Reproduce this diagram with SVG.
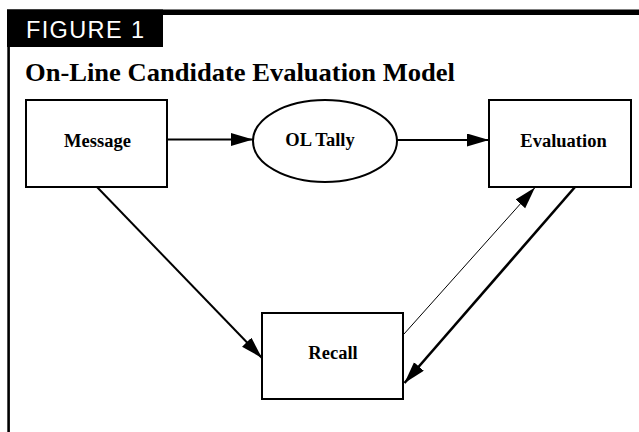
<svg xmlns="http://www.w3.org/2000/svg" width="639" height="432" viewBox="0 0 639 432">
<defs>
<style>
.box{fill:#fff;stroke:#000;stroke-width:2}
.lbl{font-family:"Liberation Serif","Times New Roman",serif;font-weight:bold;font-size:18.5px;fill:#000;text-anchor:middle}
.conn{stroke:#000;fill:none}
</style>
<marker id="ah" markerUnits="userSpaceOnUse" markerWidth="23" markerHeight="14" refX="22" refY="6.5" orient="auto">
<path d="M0,0 L22,6.5 L0,13 z" fill="#000"/>
</marker>
</defs>
<rect width="639" height="432" fill="#fff"/>
<g id="frame">
<rect x="7" y="9.5" width="632" height="5.5" fill="#000"/>
<rect x="7" y="9.5" width="156" height="37.5" fill="#000"/>
<line x1="8.6" y1="46" x2="8.6" y2="432" stroke="#000" stroke-width="2.6"/>
<text x="26" y="37.5" fill="#fff" font-family="'Liberation Sans',Arial,sans-serif" font-size="23.5" textLength="118" lengthAdjust="spacing">FIGURE 1</text>
<text x="25" y="81" fill="#000" font-family="'Liberation Serif','Times New Roman',serif" font-weight="bold" font-size="24.5" textLength="430" lengthAdjust="spacingAndGlyphs">On-Line Candidate Evaluation Model</text>
</g>
<g id="connectors">
<line class="conn" x1="167" y1="139.5" x2="253" y2="139.5" stroke-width="2" marker-end="url(#ah)"/>
<line class="conn" x1="397" y1="140" x2="489" y2="140" stroke-width="2" marker-end="url(#ah)"/>
<line class="conn" x1="97" y1="187" x2="262" y2="358" stroke-width="2" marker-end="url(#ah)"/>
<line class="conn" x1="404" y1="334" x2="535" y2="187.5" stroke-width="1" marker-end="url(#ah)"/>
<line class="conn" x1="575" y1="187" x2="404.5" y2="383" stroke-width="2.6" marker-end="url(#ah)"/>
</g>
<g id="message">
<rect class="box" x="26" y="100" width="141" height="87"/>
<text class="lbl" x="97.5" y="147">Message</text>
</g>
<g id="oltally">
<ellipse cx="325" cy="141" rx="72" ry="41" fill="#fff" stroke="#000" stroke-width="2"/>
<text class="lbl" x="320" y="146">OL Tally</text>
</g>
<g id="evaluation">
<rect class="box" x="489" y="100" width="142" height="87"/>
<text class="lbl" x="563.5" y="147">Evaluation</text>
</g>
<g id="recall">
<rect class="box" x="262" y="313" width="141" height="86"/>
<text class="lbl" x="333" y="359">Recall</text>
</g>
</svg>
